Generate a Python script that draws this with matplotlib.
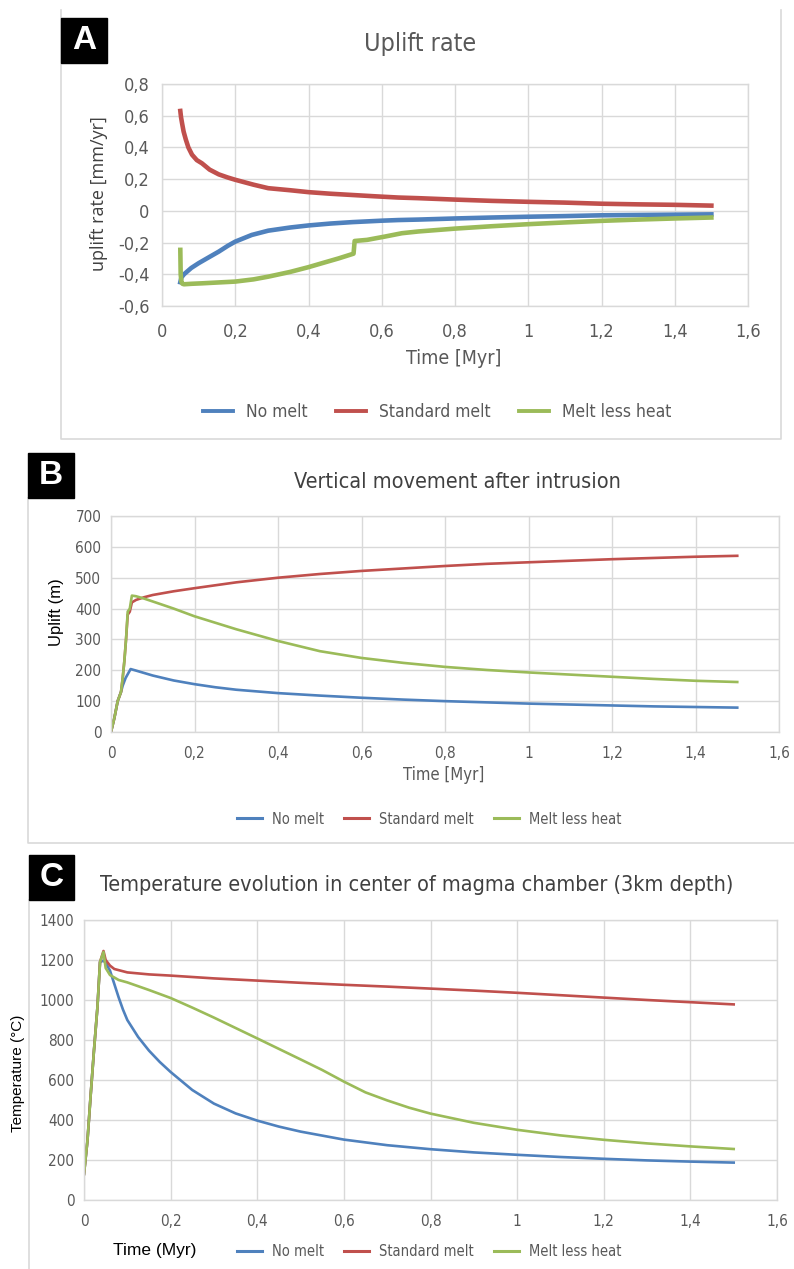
import matplotlib
matplotlib.use("Agg")
import matplotlib.pyplot as plt
from matplotlib import font_manager as fm
from matplotlib.lines import Line2D

# ---------------- data ----------------
series_names = ["No melt", "Standard melt", "Melt less heat"]
colors = ["#4F81BD", "#C0504D", "#9BBB59"]

# Panel A: uplift rate (mm/yr)
a_time_nomelt = [0.05, 0.053, 0.06, 0.08, 0.10, 0.13, 0.155, 0.18, 0.20, 0.245, 0.29, 0.35, 0.40, 0.46, 0.52,
                 0.60, 0.645, 0.70, 0.80, 0.90, 1.00, 1.10, 1.20, 1.30, 1.40, 1.50]
a_rate_nomelt = [-0.45, -0.42, -0.40, -0.36, -0.33, -0.29, -0.257, -0.22, -0.194, -0.152, -0.125, -0.105,
                 -0.092, -0.08, -0.071, -0.062, -0.058, -0.055, -0.048, -0.042, -0.037, -0.033, -0.028,
                 -0.026, -0.024, -0.022]
a_time_std = [0.05, 0.052, 0.055, 0.059, 0.065, 0.072, 0.082, 0.095, 0.109, 0.13, 0.155, 0.18, 0.20, 0.25,
              0.29, 0.35, 0.40, 0.46, 0.52, 0.58, 0.645, 0.70, 0.80, 0.90, 1.00, 1.10, 1.20, 1.30, 1.40, 1.50]
a_rate_std = [0.63, 0.59, 0.55, 0.50, 0.45, 0.40, 0.354, 0.32, 0.30, 0.26, 0.23, 0.21, 0.196, 0.165, 0.143,
              0.13, 0.118, 0.108, 0.10, 0.092, 0.084, 0.08, 0.071, 0.063, 0.057, 0.052, 0.045, 0.041, 0.038,
              0.033]
a_time_less = [0.05, 0.051, 0.053, 0.056, 0.06, 0.08, 0.109, 0.15, 0.20, 0.25, 0.29, 0.35, 0.40, 0.44, 0.482,
               0.523, 0.526, 0.56, 0.609, 0.655, 0.70, 0.80, 0.90, 1.00, 1.10, 1.20, 1.30, 1.40, 1.50]
a_rate_less = [-0.246, -0.40, -0.446, -0.46, -0.463, -0.46, -0.457, -0.452, -0.446, -0.432, -0.415, -0.385,
               -0.355, -0.328, -0.30, -0.27, -0.19, -0.183, -0.162, -0.141, -0.13, -0.112, -0.097, -0.084,
               -0.073, -0.063, -0.055, -0.048, -0.042]

# Panel B: vertical movement (m)
b_time_nomelt = [0.0, 0.008, 0.016, 0.024, 0.028, 0.035, 0.042, 0.047, 0.06, 0.08, 0.10, 0.15, 0.20, 0.25,
                 0.30, 0.40, 0.50, 0.60, 0.70, 0.80, 0.90, 1.00, 1.10, 1.20, 1.30, 1.40, 1.50]
b_up_nomelt = [0, 45, 100, 130, 150, 175, 192, 204, 199, 191, 183, 167, 155, 145, 137, 126, 118, 111, 105,
               100, 96, 92, 89, 86, 83, 81, 79]
b_time_std = [0.0, 0.008, 0.016, 0.024, 0.028, 0.032, 0.036, 0.04, 0.045, 0.05, 0.06, 0.08, 0.10, 0.15, 0.20,
              0.30, 0.40, 0.50, 0.60, 0.70, 0.80, 0.90, 1.00, 1.10, 1.20, 1.30, 1.40, 1.50]
b_up_std = [0, 45, 100, 130, 175, 230, 300, 380, 390, 420, 428, 437, 444, 456, 466, 485, 500, 512, 522, 530,
            538, 545, 550, 555, 560, 564, 568, 571]
b_time_less = [0.0, 0.008, 0.016, 0.024, 0.028, 0.032, 0.036, 0.04, 0.045, 0.05, 0.06, 0.08, 0.10, 0.15,
               0.20, 0.30, 0.40, 0.50, 0.60, 0.70, 0.80, 0.90, 1.00, 1.10, 1.20, 1.30, 1.40, 1.50]
b_up_less = [0, 45, 100, 130, 175, 230, 300, 390, 400, 442, 440, 432, 423, 400, 375, 333, 295, 262, 240, 224,
             211, 201, 193, 186, 179, 172, 166, 162]

# Panel C: temperature (deg C)
c_time_nomelt = [0.0, 0.008, 0.015, 0.023, 0.031, 0.037, 0.045, 0.05, 0.06, 0.07, 0.08, 0.09, 0.10, 0.125,
                 0.15, 0.175, 0.20, 0.25, 0.30, 0.35, 0.40, 0.45, 0.50, 0.60, 0.70, 0.80, 0.90, 1.00, 1.10,
                 1.20, 1.30, 1.40, 1.50]
c_temp_nomelt = [130, 297, 513, 747, 963, 1190, 1197, 1185, 1147, 1080, 1013, 952, 900, 815, 747, 690, 640,
                 550, 482, 433, 397, 367, 342, 302, 274, 254, 238, 226, 215, 206, 198, 192, 187]
c_time_std = [0.0, 0.008, 0.015, 0.023, 0.031, 0.037, 0.045, 0.05, 0.06, 0.07, 0.10, 0.15, 0.20, 0.30, 0.40,
              0.50, 0.60, 0.70, 0.80, 0.90, 1.00, 1.10, 1.20, 1.30, 1.40, 1.50]
c_temp_std = [130, 297, 513, 747, 963, 1190, 1245, 1200, 1172, 1155, 1138, 1128, 1122, 1108, 1097, 1086,
              1076, 1067, 1057, 1047, 1036, 1024, 1012, 1000, 989, 978]
c_time_less = [0.0, 0.008, 0.015, 0.023, 0.031, 0.037, 0.045, 0.05, 0.06, 0.08, 0.10, 0.15, 0.20, 0.25, 0.30,
               0.40, 0.50, 0.55, 0.60, 0.65, 0.70, 0.75, 0.80, 0.90, 1.00, 1.10, 1.20, 1.30, 1.40, 1.50]
c_temp_less = [130, 297, 513, 747, 963, 1190, 1240, 1160, 1125, 1100, 1088, 1050, 1010, 962, 912, 808, 703,
               650, 592, 538, 498, 462, 432, 386, 351, 323, 301, 283, 268, 255]

x_ticks = [0, 0.2, 0.4, 0.6, 0.8, 1, 1.2, 1.4, 1.6]
a_yticks = [-0.6, -0.4, -0.2, 0, 0.2, 0.4, 0.6, 0.8]
b_yticks = [0, 100, 200, 300, 400, 500, 600, 700]
c_yticks = [0, 200, 400, 600, 800, 1000, 1200, 1400]

# ---------------- fonts ----------------
names = {f.name for f in fm.fontManager.ttflist}
if "Liberation Sans Narrow" in names:
    COND = dict(family="Liberation Sans Narrow")
else:
    COND = dict(family="DejaVu Sans", stretch="condensed")
ARIAL = dict(family="Liberation Sans")

W, H = 794, 1269
fig = plt.figure(figsize=(W / 100, H / 100), dpi=100)
GRAY = "#595959"
GRID = "#d9d9d9"


def fx(x):
    return x / W


def fy(y):
    return 1 - y / H


def fmt(v):
    if abs(v) < 1e-9:
        return "0"
    return ("%g" % v).replace(".", ",")


def make_ax(l, t, r, b, yticks, ylim, tick_fs, xpad, ypad):
    ax = fig.add_axes([fx(l), fy(b), fx(r) - fx(l), fy(t) - fy(b)])
    ax.set_xlim(0, 1.6)
    ax.set_ylim(*ylim)
    ax.set_xticks(x_ticks)
    ax.set_yticks(yticks)
    ax.set_xticklabels([fmt(v) for v in x_ticks])
    ax.set_yticklabels([fmt(v) for v in yticks])
    for lab in ax.get_xticklabels() + ax.get_yticklabels():
        lab.set_fontproperties(fm.FontProperties(size=tick_fs, **COND))
        lab.set_color(GRAY)
    ax.tick_params(length=0, pad=0)
    ax.tick_params(axis="x", pad=xpad)
    ax.tick_params(axis="y", pad=ypad)
    ax.grid(True, color=GRID, lw=1)
    ax.set_axisbelow(True)
    for s in ax.spines.values():
        s.set_color(GRID)
        s.set_linewidth(1)
    return ax


def letter_box(x0, y0, x1, y1, ch):
    fig.patches.append(plt.Rectangle((fx(x0), fy(y1)), fx(x1) - fx(x0), fy(y0) - fy(y1),
                                     transform=fig.transFigure, color="black", zorder=5))
    fig.text(fx((x0 + x1) / 2), fy((y0 + y1) / 2), ch, color="white", ha="center", va="center",
             fontsize=24, fontweight="bold", zorder=6, **ARIAL)


def frame_line(xs, ys):
    fig.add_artist(Line2D([fx(v) for v in xs], [fy(v) for v in ys], color=GRID, lw=1.2))


def legend(left, cy, fs, lw, hl, tp, cs):
    handles = [Line2D([], [], color=c, lw=lw) for c in colors]
    leg = fig.legend(handles, series_names, loc="center left", bbox_to_anchor=(fx(left), fy(cy)), ncol=3,
                     frameon=False, handlelength=hl, columnspacing=cs, handletextpad=tp,
                     borderpad=0, borderaxespad=0,
                     prop=fm.FontProperties(size=fs, **COND))
    for t in leg.get_texts():
        t.set_color(GRAY)
    return leg


# ---------------- Panel A ----------------
frame_line([61, 61, 781, 781], [10, 439, 439, 10])
letter_box(61, 18, 107, 63, "A")
axA = make_ax(162, 84, 748, 306, a_yticks, (-0.6, 0.8), 13, 12, 9)
axA.plot(a_time_nomelt, a_rate_nomelt, color=colors[0], lw=3.3)
axA.plot(a_time_std, a_rate_std, color=colors[1], lw=3.3)
axA.plot(a_time_less, a_rate_less, color=colors[2], lw=3.3)
fig.text(fx(420), fy(44), "Uplift rate", ha="center", va="center", fontsize=18, color=GRAY, **COND)
fig.text(fx(99), fy(194), "uplift rate [mm/yr]", ha="center", va="center", rotation=90,
         fontsize=13, color="#404040", family="Open Sans")
fig.text(fx(454), fy(358), "Time [Myr]", ha="center", va="center", fontsize=14, color=GRAY, **COND)
legend(203, 412, 12.5, 2.8, 1.75, 0.75, 1.6)

# ---------------- Panel B ----------------
frame_line([28, 28, 794], [498, 843, 843])
letter_box(28, 453, 74, 498, "B")
axB = make_ax(111, 516, 779, 732, b_yticks, (0, 700), 11, 10, 7)
axB.plot(b_time_nomelt, b_up_nomelt, color=colors[0], lw=1.9)
axB.plot(b_time_std, b_up_std, color=colors[1], lw=1.9)
axB.plot(b_time_less, b_up_less, color=colors[2], lw=1.9)
fig.text(fx(457), fy(482), "Vertical movement after intrusion", ha="center", va="center", fontsize=15.5,
         color="#404040", **COND)
fig.text(fx(56), fy(612), "Uplift (m)", ha="center", va="center", rotation=90, fontsize=12,
         color="black", **ARIAL)
fig.text(fx(444), fy(775), "Time [Myr]", ha="center", va="center", fontsize=12, color=GRAY, **COND)
legend(237, 819, 10.5, 2.2, 1.7, 0.7, 1.4)

# ---------------- Panel C ----------------
frame_line([29, 29], [900, 1269])
letter_box(29, 855, 74, 900, "C")
axC = make_ax(84, 920, 777, 1200, c_yticks, (0, 1400), 11, 10, 7)
axC.plot(c_time_nomelt, c_temp_nomelt, color=colors[0], lw=1.9)
axC.plot(c_time_std, c_temp_std, color=colors[1], lw=1.9)
axC.plot(c_time_less, c_temp_less, color=colors[2], lw=1.9)
fig.text(fx(417), fy(885), "Temperature evolution in center of magma chamber (3km depth)", ha="center",
         va="center", fontsize=15.5, color="#404040", **COND)
fig.text(fx(18), fy(1073), "Temperature (\u00b0C)", ha="center", va="center", rotation=90, fontsize=11,
         color="black", **ARIAL)
fig.text(fx(155), fy(1251), "Time (Myr)", ha="center", va="center", fontsize=12.5, color="black", **ARIAL)
legend(237, 1252, 10.5, 2.2, 1.7, 0.7, 1.4)

fig.savefig("out.png", dpi=100, facecolor="white")
